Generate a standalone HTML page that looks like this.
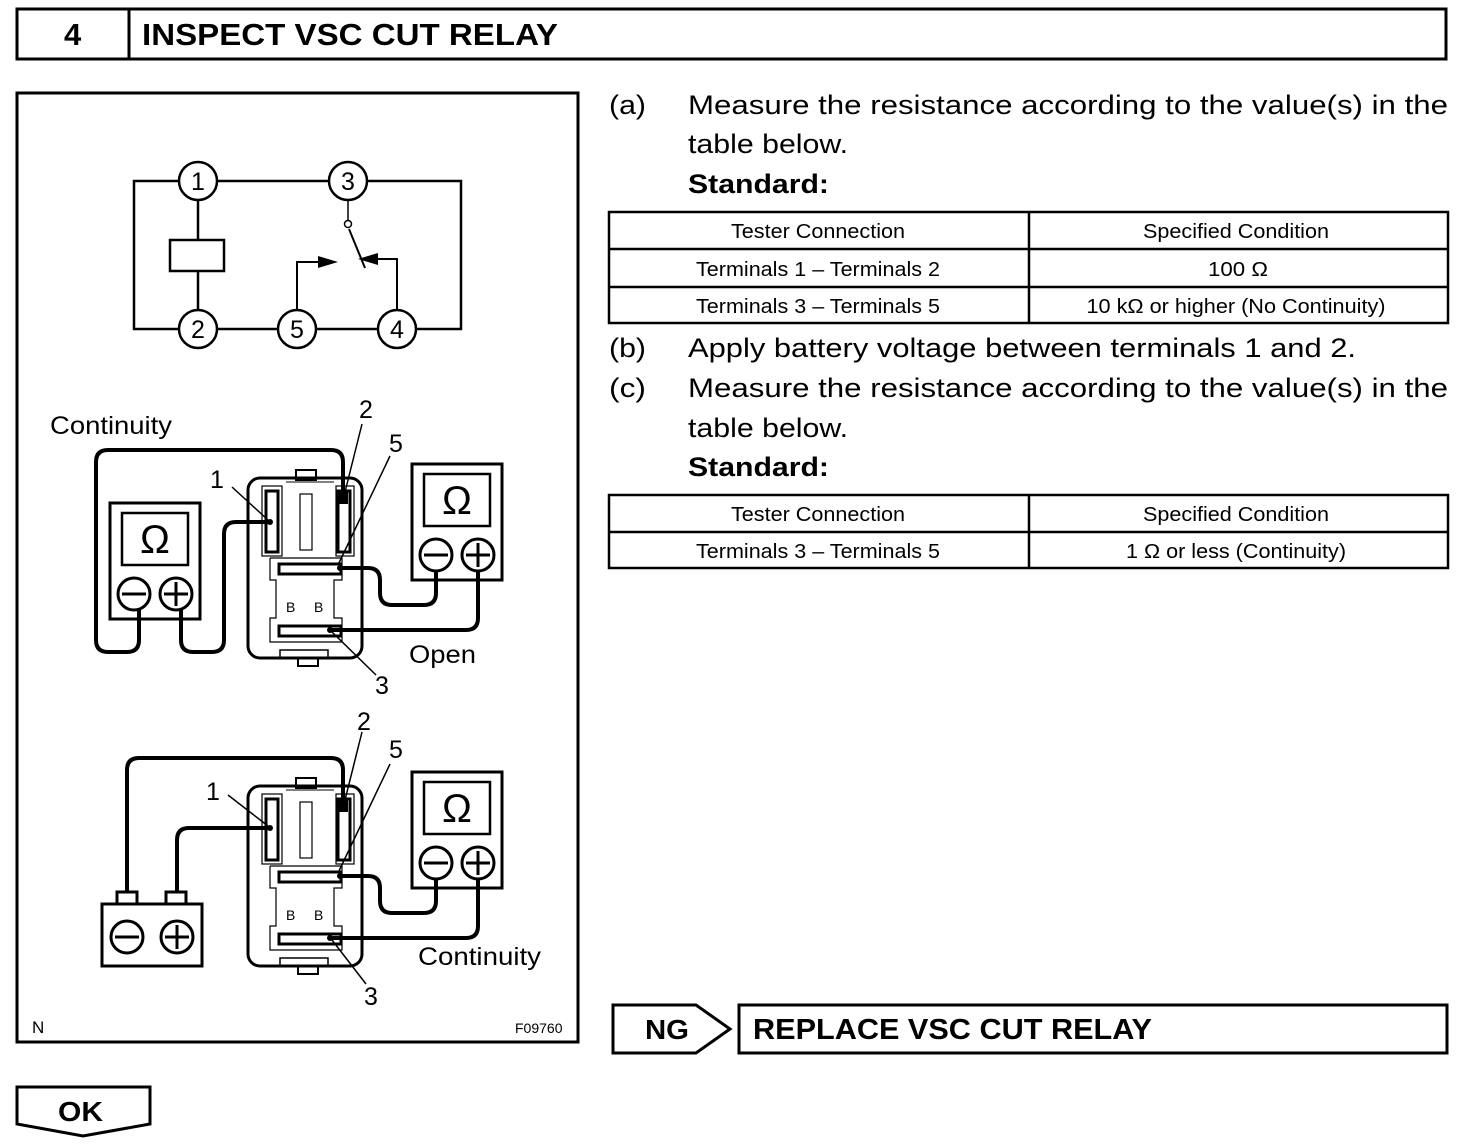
<!DOCTYPE html>
<html><head><style>
body{margin:0;background:#fff}
svg{display:block}
text{font-family:"Liberation Sans",Arial,sans-serif;fill:#000}
</style></head><body>
<svg width="1472" height="1144" viewBox="0 0 1472 1144" xmlns="http://www.w3.org/2000/svg">
<g fill="none" stroke="#000">
<rect x="17" y="9" width="1429" height="50" stroke-width="3"/>
<line x1="129" y1="9" x2="129" y2="59" stroke-width="3"/>
<rect x="17" y="93" width="561" height="949" stroke-width="3"/>
<rect x="134" y="181" width="327" height="148" stroke-width="2.5"/>
<rect x="170" y="240" width="54" height="31" stroke-width="2.5" fill="#fff"/>
<line x1="198" y1="200" x2="198" y2="240" stroke-width="2.5"/>
<line x1="198" y1="271" x2="198" y2="310" stroke-width="2.5"/>
<line x1="348" y1="200" x2="348" y2="220" stroke-width="1.5"/>
<circle cx="348" cy="224" r="3.5" stroke-width="1.5" fill="#fff"/>
<line x1="349" y1="229" x2="365" y2="268" stroke-width="2"/>
<polyline points="297,310 297,262 330,262" stroke-width="2"/>
<polyline points="397,310 397,259 366,259" stroke-width="2"/>
</g>
<polygon points="338,262 318,256 318,268"/>
<polygon points="358,259 378,253 378,265"/>
<g fill="#fff" stroke="#000" stroke-width="2.5">
<circle cx="198" cy="181" r="19"/><circle cx="348" cy="181" r="19"/>
<circle cx="198" cy="329" r="19"/><circle cx="297" cy="329" r="19"/><circle cx="397" cy="329" r="19"/>
</g>
<g font-size="25" text-anchor="middle">
<text x="198" y="190">1</text><text x="348" y="190">3</text>
<text x="198" y="338">2</text><text x="297" y="338">5</text><text x="397" y="338">4</text>
</g>

<defs>
<g id="relay">
 <g fill="none" stroke="#000">
  <rect x="296" y="470" width="20" height="10" stroke-width="2" fill="#fff"/>
  <rect x="248" y="478" width="114" height="180" rx="12" stroke-width="3"/>
  <rect x="280" y="650" width="48" height="8" stroke-width="1.5"/>
  <rect x="298" y="658" width="20" height="8" stroke-width="2"/>
  <rect x="262" y="486" width="20" height="70" stroke-width="1.2"/>
  <rect x="266" y="491" width="12" height="61" stroke-width="3"/>
  <rect x="336" y="486" width="18" height="70" stroke-width="1.2"/>
  <rect x="338" y="491" width="12" height="61" stroke-width="3"/>
  <rect x="300" y="494" width="12" height="56" stroke-width="1.2"/>
  <line x1="286" y1="482" x2="334" y2="482" stroke-width="1"/>
  <polyline points="270,558 342,558 342,580 334,580 334,618 342,618 342,642 270,642 270,618 276,618 276,580 270,580 270,558" stroke-width="1.2"/>
  <rect x="279" y="564" width="62" height="10" stroke-width="3"/>
  <rect x="279" y="626" width="62" height="10" stroke-width="3"/>
 </g>
 <rect x="338" y="490" width="10" height="14" fill="#000"/>
 <text x="286" y="612" font-size="14">B</text><text x="314" y="612" font-size="14">B</text>
</g>
<g id="meter" fill="none" stroke="#000" stroke-width="3">
 <rect x="0" y="0" width="90" height="116"/>
 <rect x="12" y="10" width="66" height="52" stroke-width="2.5"/>
 <circle cx="24" cy="91" r="16" fill="#fff"/><circle cx="66" cy="91" r="16" fill="#fff"/>
 <line x1="12" y1="91" x2="36" y2="91"/><line x1="54" y1="91" x2="78" y2="91"/><line x1="66" y1="79" x2="66" y2="103"/>
 <text x="45" y="50" font-size="40" text-anchor="middle" stroke="none" fill="#000">Ω</text>
</g>
</defs>

<g fill="none" stroke="#000" stroke-width="4" stroke-linejoin="round">
<path d="M343,497 V462 Q343,450 331,450 H108 Q96,450 96,462 V640 Q96,652 108,652 H127 Q139,652 139,640 V610"/>
<path d="M181,610 V640 Q181,652 193,652 H212 Q224,652 224,640 V534 Q224,522 236,522 H270"/>
<path d="M340,568 H368 Q380,568 380,580 V593 Q380,605 392,605 H424 Q436,605 436,593 V571"/>
<path d="M330,630 H466 Q478,630 478,618 V571"/>
</g>
<use href="#relay"/>
<use href="#meter" transform="translate(110,503)"/>
<use href="#meter" transform="translate(412,464)"/>
<g stroke="#000" stroke-width="1.5">
<line x1="232" y1="487" x2="268" y2="520"/><line x1="362" y1="424" x2="345" y2="492"/>
<line x1="390" y1="456" x2="338" y2="565"/><line x1="376" y1="675" x2="332" y2="632"/>
</g>
<circle cx="270" cy="522" r="3"/><circle cx="340" cy="568" r="3"/><circle cx="330" cy="630" r="3"/>
<g font-size="25">
<text x="50" y="434" textLength="122" lengthAdjust="spacingAndGlyphs">Continuity</text><text x="210" y="488">1</text><text x="359" y="418">2</text>
<text x="389" y="452">5</text><text x="375" y="694">3</text><text x="409" y="663" textLength="67" lengthAdjust="spacingAndGlyphs">Open</text>
</g>

<g transform="translate(0,308)">
<g fill="none" stroke="#000" stroke-width="4" stroke-linejoin="round">
<path d="M343,497 V462 Q343,450 331,450 H139 Q127,450 127,462 V584"/>
<path d="M177,584 V532 Q177,520 189,520 H270"/>
<path d="M340,568 H368 Q380,568 380,580 V593 Q380,605 392,605 H424 Q436,605 436,593 V571"/>
<path d="M330,630 H466 Q478,630 478,618 V571"/>
</g>
<use href="#relay"/>
<use href="#meter" transform="translate(412,464)"/>
<circle cx="270" cy="520" r="3"/><circle cx="340" cy="568" r="3"/><circle cx="330" cy="630" r="3"/>
<g stroke="#000" stroke-width="1.5">
<line x1="228" y1="487" x2="268" y2="518"/><line x1="362" y1="424" x2="345" y2="492"/>
<line x1="390" y1="456" x2="338" y2="565"/><line x1="366" y1="676" x2="332" y2="632"/>
</g>
<g fill="#fff" stroke="#000" stroke-width="3">
<rect x="117" y="584" width="20" height="12"/><rect x="166" y="584" width="20" height="12"/>
<rect x="102" y="596" width="100" height="62"/>
<circle cx="127" cy="629" r="16"/><circle cx="177" cy="629" r="16"/>
<line x1="115" y1="629" x2="139" y2="629"/><line x1="165" y1="629" x2="189" y2="629"/><line x1="177" y1="617" x2="177" y2="641"/>
</g>
<g font-size="25">
<text x="206" y="492">1</text><text x="357" y="422">2</text>
<text x="389" y="450">5</text><text x="364" y="697">3</text><text x="418" y="657" textLength="123" lengthAdjust="spacingAndGlyphs">Continuity</text>
</g>
</g>
<text x="32" y="1033" font-size="17">N</text>
<text x="515" y="1033" font-size="14">F09760</text>

<text x="64" y="45" font-size="31" font-weight="bold">4</text>
<text x="142" y="45" font-size="31" font-weight="bold" textLength="416" lengthAdjust="spacingAndGlyphs">INSPECT VSC CUT RELAY</text>

<g font-size="27">
<text x="609" y="114" textLength="37" lengthAdjust="spacingAndGlyphs">(a)</text>
<text x="688" y="114" textLength="760" lengthAdjust="spacingAndGlyphs">Measure the resistance according to the value(s) in the</text>
<text x="688" y="153" textLength="160" lengthAdjust="spacingAndGlyphs">table below.</text>
<text x="688" y="193" font-weight="bold" textLength="141" lengthAdjust="spacingAndGlyphs">Standard:</text>
<text x="609" y="357" textLength="37" lengthAdjust="spacingAndGlyphs">(b)</text><text x="688" y="357" textLength="668" lengthAdjust="spacingAndGlyphs">Apply battery voltage between terminals 1 and 2.</text>
<text x="609" y="397" textLength="37" lengthAdjust="spacingAndGlyphs">(c)</text>
<text x="688" y="397" textLength="760" lengthAdjust="spacingAndGlyphs">Measure the resistance according to the value(s) in the</text>
<text x="688" y="437" textLength="160" lengthAdjust="spacingAndGlyphs">table below.</text>
<text x="688" y="476" font-weight="bold" textLength="141" lengthAdjust="spacingAndGlyphs">Standard:</text>
</g>
<g fill="none" stroke="#000" stroke-width="2.5">
<rect x="609" y="212" width="839" height="111"/>
<line x1="609" y1="249" x2="1448" y2="249"/><line x1="609" y1="287" x2="1448" y2="287"/>
<line x1="1029" y1="212" x2="1029" y2="323"/>
<rect x="609" y="495" width="839" height="73"/>
<line x1="609" y1="532" x2="1448" y2="532"/>
<line x1="1029" y1="495" x2="1029" y2="568"/>
</g>
<g font-size="20" text-anchor="middle" lengthAdjust="spacingAndGlyphs">
<text x="818" y="238" textLength="174" lengthAdjust="spacingAndGlyphs">Tester Connection</text><text x="1236" y="238" textLength="186" lengthAdjust="spacingAndGlyphs">Specified Condition</text>
<text x="818" y="276" textLength="244" lengthAdjust="spacingAndGlyphs">Terminals 1 – Terminals 2</text><text x="1238" y="276" textLength="60" lengthAdjust="spacingAndGlyphs">100 Ω</text>
<text x="818" y="313" textLength="244" lengthAdjust="spacingAndGlyphs">Terminals 3 – Terminals 5</text><text x="1236" y="313" textLength="299" lengthAdjust="spacingAndGlyphs">10 kΩ or higher (No Continuity)</text>
<text x="818" y="521" textLength="174" lengthAdjust="spacingAndGlyphs">Tester Connection</text><text x="1236" y="521" textLength="186" lengthAdjust="spacingAndGlyphs">Specified Condition</text>
<text x="818" y="558" textLength="244" lengthAdjust="spacingAndGlyphs">Terminals 3 – Terminals 5</text><text x="1236" y="558" textLength="220" lengthAdjust="spacingAndGlyphs">1 Ω or less (Continuity)</text>
</g>

<g fill="none" stroke="#000" stroke-width="3">
<polygon points="613,1005 696,1005 730,1029 696,1053 613,1053"/>
<rect x="739" y="1005" width="708" height="48"/>
<polygon points="17,1087 150,1087 150,1124 83,1136 17,1124"/>
</g>
<text x="645" y="1039" font-size="28" font-weight="bold" textLength="44" lengthAdjust="spacingAndGlyphs">NG</text>
<text x="753" y="1039" font-size="29" font-weight="bold" textLength="399" lengthAdjust="spacingAndGlyphs">REPLACE VSC CUT RELAY</text>
<text x="58" y="1121" font-size="28" font-weight="bold" textLength="45" lengthAdjust="spacingAndGlyphs">OK</text>
</svg>
</body></html>
